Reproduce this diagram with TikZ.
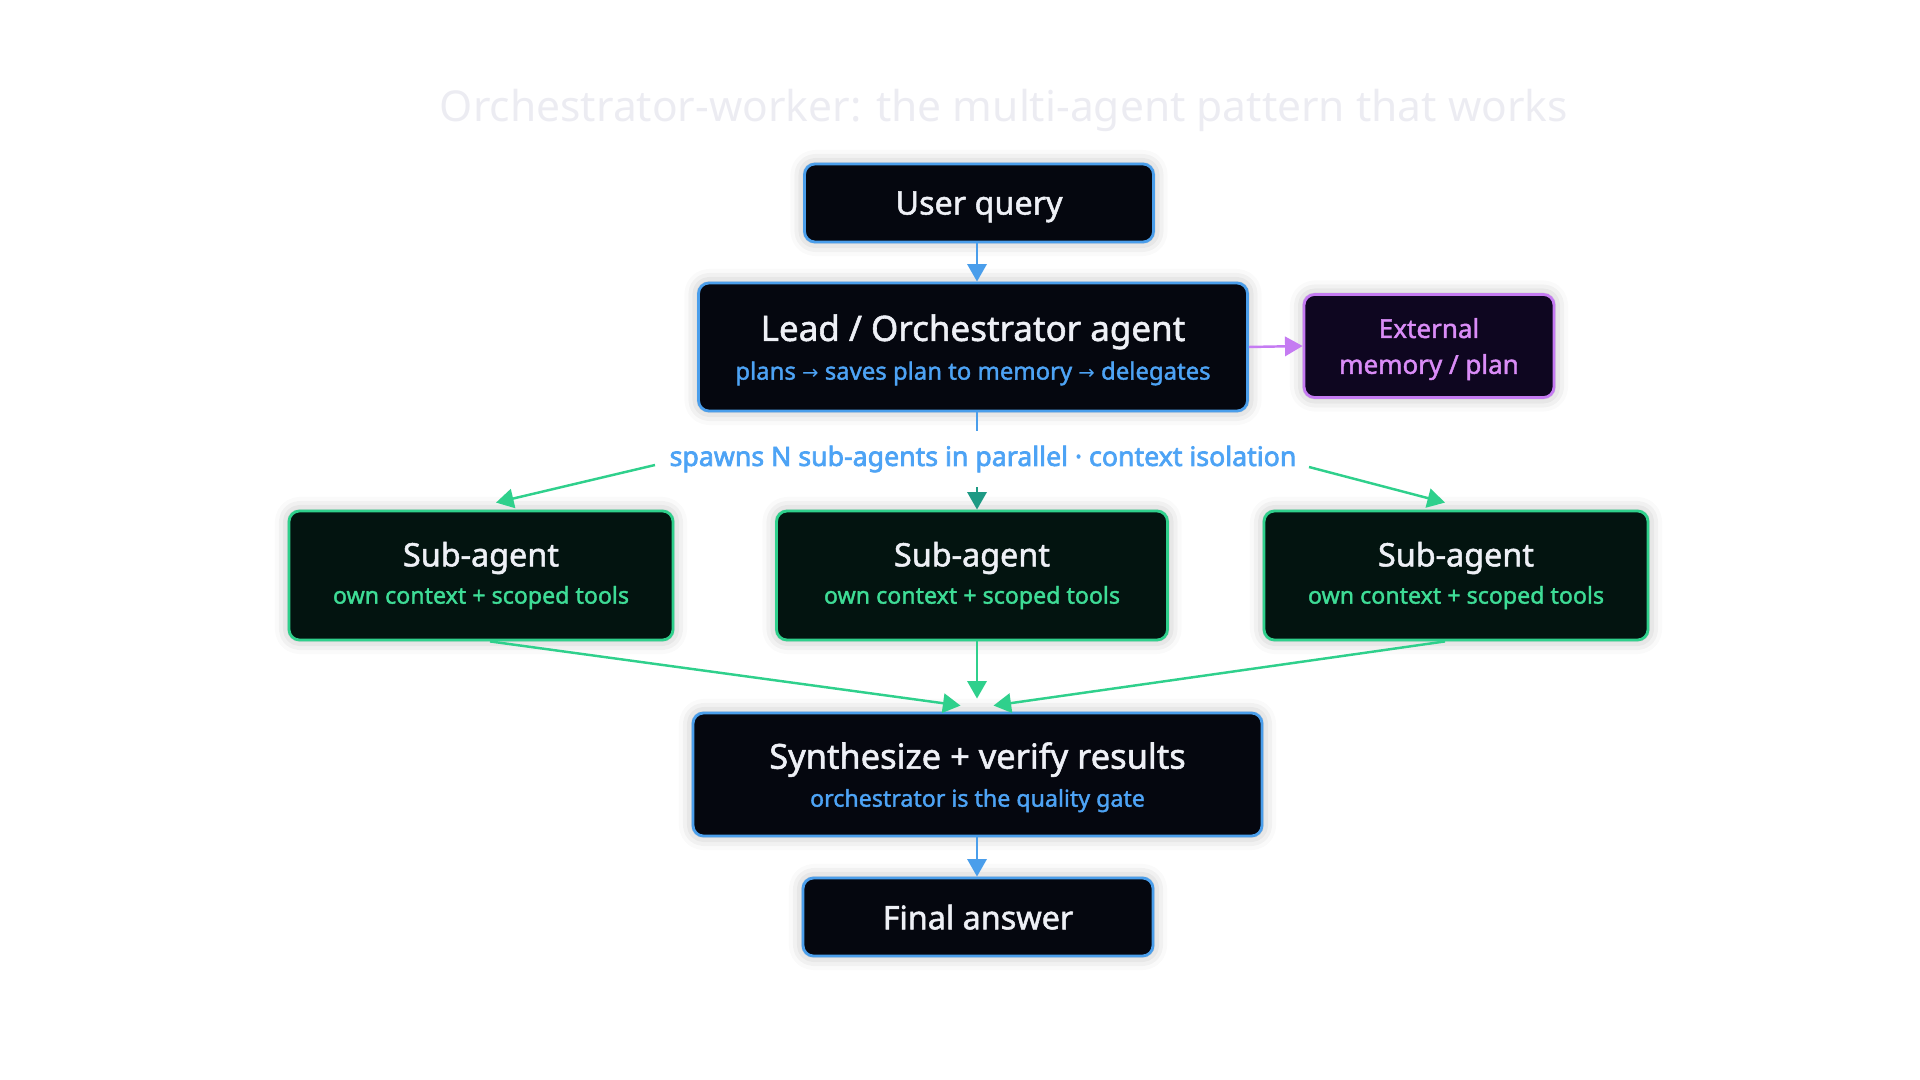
\documentclass[tikz,border=0pt]{standalone}
\usepackage{fontspec}
\setmainfont{Noto Sans}[FakeBold=1.6]
\newfontfamily\arrowfont{DejaVu Sans}
\newfontfamily\labelfont{Noto Sans}[FakeBold=2.6]
\newfontfamily\titlefont{Noto Sans}
\usetikzlibrary{arrows.meta,shadows.blur}

\definecolor{navy}{HTML}{05070F}
\definecolor{edgeblue}{HTML}{4A9EEB}
\definecolor{textblue}{HTML}{4DA3F5}
\definecolor{forest}{HTML}{031410}
\definecolor{edgegreen}{HTML}{2FD08C}
\definecolor{textgreen}{HTML}{3EDC96}
\definecolor{teal}{HTML}{1E9A84}
\definecolor{plum}{HTML}{0E0620}
\definecolor{edgepurple}{HTML}{C57BF2}
\definecolor{textpurple}{HTML}{DA8CF7}
\definecolor{whitish}{HTML}{EEF0F6}
\definecolor{titlegray}{HTML}{ECECF2}

\newcommand{\toarrow}{{\arrowfont\fontsize{5.6}{8}\selectfont →}}

\begin{document}
\begin{tikzpicture}
	  \tikzstyle{box} = [rectangle, rounded corners=3pt, line width=0.8pt, inner sep=0pt, align=center, text=whitish,
	    blur shadow={shadow xshift=0pt, shadow yshift=0pt, shadow blur radius=4pt, shadow opacity=30}]
	  \tikzstyle{bluebox} = [box, draw=edgeblue, fill=navy]
	  \tikzstyle{greenbox} = [box, draw=edgegreen, fill=forest, minimum width=3.84cm, minimum height=1.29cm, font=\fontsize{6.6}{10.6}\selectfont]
	  \tikzstyle{purplebox} = [box, draw=edgepurple, fill=plum, text=textpurple, minimum width=2.5cm, minimum height=1.03cm, font=\fontsize{7.4}{10.2}\selectfont]
	  \tikzstyle{big} = [font=\fontsize{9.2}{11}\selectfont, text depth=0pt]
	  \tikzstyle{arr} = [-{Triangle[length=5pt,width=5.5pt]}, line width=0.7pt]
	  \useasboundingbox (0,0) rectangle (19.2,-10.8);
	  % title
	  \node[text=titlegray, font=\titlefont\fontsize{12.1}{14}\selectfont] (title) at (10.04,-1.1) {Orchestrator-worker: the multi-agent pattern that works};
	  % main column
	  \node[bluebox, big, minimum width=3.49cm, minimum height=0.78cm] (query) at (9.79,-2.03) {User query};
	  \node[bluebox, minimum width=5.49cm, minimum height=1.28cm, font=\fontsize{6.8}{11}\selectfont, text depth=0pt] (lead) at (9.73,-3.47)
	    {{\fontsize{9.95}{11}\selectfont Lead / Orchestrator agent}\\\color{textblue}plans \toarrow{} saves plan to memory \toarrow{} delegates};
	  \node[purplebox, text depth=0pt] (mem) at (14.29,-3.46) {External\\memory / plan};
	  \node[text=textblue, font=\labelfont\fontsize{7.6}{9}\selectfont, inner sep=2pt] (spawn) at (9.83,-4.59) {spawns N sub-agents in parallel · context isolation};
	  \node[greenbox] (subL) at (4.81,-5.755) {{\fontsize{9.2}{10.6}\selectfont Sub-agent}\\\color{textgreen}own context + scoped tools};
	  \node[greenbox, minimum width=3.91cm] (subM) at (9.72,-5.755) {{\fontsize{9.2}{10.6}\selectfont Sub-agent}\\\color{textgreen}own context + scoped tools};
	  \node[greenbox] (subR) at (14.56,-5.755) {{\fontsize{9.2}{10.6}\selectfont Sub-agent}\\\color{textgreen}own context + scoped tools};
	  \node[bluebox, minimum width=5.69cm, minimum height=1.23cm, font=\fontsize{6.6}{10.8}\selectfont, text depth=0pt] (synth) at (9.775,-7.745)
	    {{\fontsize{9.8}{10.8}\selectfont Synthesize + verify results}\\\color{textblue}orchestrator is the quality gate};
	  \node[bluebox, big, minimum width=3.5cm, minimum height=0.78cm] (final) at (9.78,-9.17) {Final answer};
	  % free ends of the spawn arrows
	  \coordinate (ls) at (6.55,-4.65);
	  \coordinate (rs) at (13.09,-4.67);
	  \coordinate (mtop) at (9.77,-4.31);
	  \coordinate (mbot) at (9.77,-4.87);
	  % connectors
	  \draw[arr, edgeblue] (query.south -| mbot) -- (lead.north -| mbot);
	  \draw[arr, edgepurple] (lead.east) -- (mem.west);
	  \draw[edgeblue, line width=0.7pt] (lead.south -| mtop) -- (mtop);
	  \draw[arr, edgegreen] (ls) -- ([xshift=0.15cm, yshift=0.07cm]subL.north);
	  \draw[arr, teal] (mbot) -- (mbot |- subM.north);
	  \draw[arr, edgegreen] (rs) -- ([xshift=-0.11cm, yshift=0.07cm]subR.north);
	  \draw[arr, edgegreen] ([xshift=0.09cm]subL.south) -- ([xshift=-0.17cm, yshift=0.06cm]synth.north);
	  \draw[arr, edgegreen] (subM.south -| mbot) -- ([yshift=0.13cm]synth.north -| mbot);
	  \draw[arr, edgegreen] ([xshift=-0.11cm]subR.south) -- ([xshift=0.16cm, yshift=0.06cm]synth.north);
	  \draw[arr, edgeblue] (synth.south -| mbot) -- (final.north -| mbot);
\end{tikzpicture}
\end{document}
